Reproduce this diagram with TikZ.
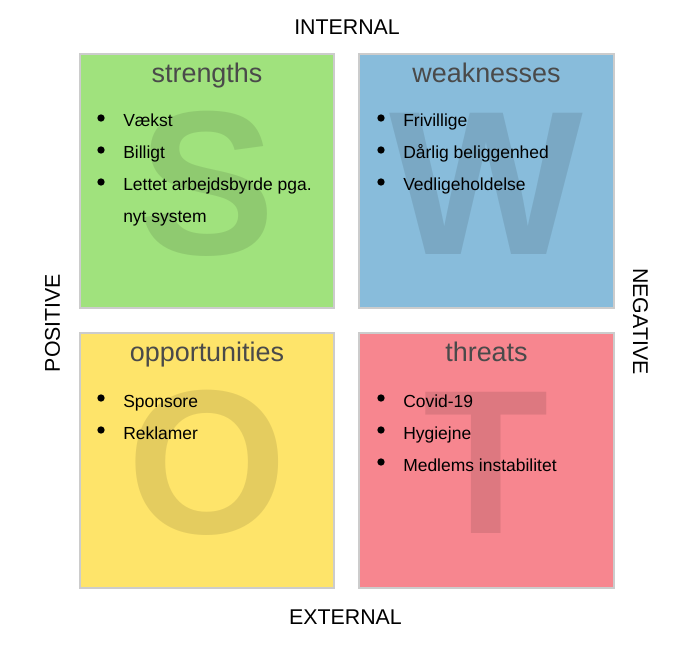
\documentclass[tikz,border=0pt]{standalone}
\usepackage{fontspec}
\setmainfont{Liberation Sans}
\definecolor{sgreen}{HTML}{A0E27D}
\definecolor{wblue}{HTML}{88BCDB}
\definecolor{oyellow}{HTML}{FEE46A}
\definecolor{tred}{HTML}{F7868F}
\definecolor{boxline}{HTML}{CCCCCC}
\definecolor{titlegray}{HTML}{4A4A4A}
\tikzset{
  quad/.style={draw=boxline, line width=0.8pt},
  bigletter/.style={anchor=base, inner sep=0pt, text=black, text opacity=0.1,
     font=\fontsize{154}{160}\selectfont\bfseries},
  quadtitle/.style={anchor=base, inner sep=0pt, text=titlegray,
     font=\fontsize{20.2}{24}\selectfont},
  item/.style={anchor=base west, inner sep=0pt, text=black,
     font=\fontsize{13.1}{16}\selectfont},
  bulletdot/.style={circle, fill=black, inner sep=0pt, minimum size=5.5pt},
  axislabel/.style={inner sep=0pt, text=black, font=\fontsize{16}{19}\selectfont}
}
\begin{document}
\begin{tikzpicture}[x=0.75pt, y=-0.75pt]
\useasboundingbox (0,0) rectangle (694,660);
% quadrants
\filldraw[quad, fill=sgreen] (80,54) rectangle (334,308);
\filldraw[quad, fill=wblue] (359,54) rectangle (614,308);
\filldraw[quad, fill=oyellow] (80,333) rectangle (334,588);
\filldraw[quad, fill=tred] (359,333) rectangle (614,588);
% big letters
\node[bigletter] (bigS) at (207,255) {S};
\node[bigletter] (bigW) at (486.5,254) {W};
\node[bigletter] (bigO) at (207,533) {O};
\node[bigletter] (bigT) at (486.5,533) {T};
% titles
\node[quadtitle] (ts) at (207,83) {strengths};
\node[quadtitle] (tw) at (486.5,83) {weaknesses};
\node[quadtitle] (to) at (207,362) {opportunities};
\node[quadtitle] (tt) at (486.5,362) {threats};
% strengths items
\node[bulletdot] (bs1) at (101,118) {};
\node[item] (s1) at (123,127) {Vækst};
\node[bulletdot] (bs2) at (101,150) {};
\node[item] (s2) at (123,159) {Billigt};
\node[bulletdot] (bs3) at (101,182) {};
\node[item] (s3) at (123,191) {Lettet arbejdsbyrde pga.};
\node[item] (s4) at (123,222.5) {nyt system};
% weaknesses items
\node[bulletdot] (bw1) at (381,118) {};
\node[item] (w1) at (403,127) {Frivillige};
\node[bulletdot] (bw2) at (381,150) {};
\node[item] (w2) at (403,159) {Dårlig beliggenhed};
\node[bulletdot] (bw3) at (381,182) {};
\node[item] (w3) at (403,191) {Vedligeholdelse};
% opportunities items
\node[bulletdot] (bo1) at (101,398) {};
\node[item] (o1) at (123,407) {Sponsore};
\node[bulletdot] (bo2) at (101,430) {};
\node[item] (o2) at (123,439) {Reklamer};
% threats items
\node[bulletdot] (bt1) at (381,398) {};
\node[item] (t1) at (403,407) {Covid-19};
\node[bulletdot] (bt2) at (381,430) {};
\node[item] (t2) at (403,439) {Hygiejne};
\node[bulletdot] (bt3) at (381,462) {};
\node[item] (t3) at (403,471) {Medlems instabilitet};
% axis labels
\node[axislabel, anchor=base] (internal) at (347,35) {INTERNAL};
\node[axislabel, anchor=base] (external) at (345.5,624) {EXTERNAL};
\node[axislabel, anchor=base, rotate=90] (positive) at (60,323) {POSITIVE};
\node[axislabel, anchor=base, rotate=-90] (negative) at (633,321.5) {NEGATIVE};
\end{tikzpicture}
\end{document}
